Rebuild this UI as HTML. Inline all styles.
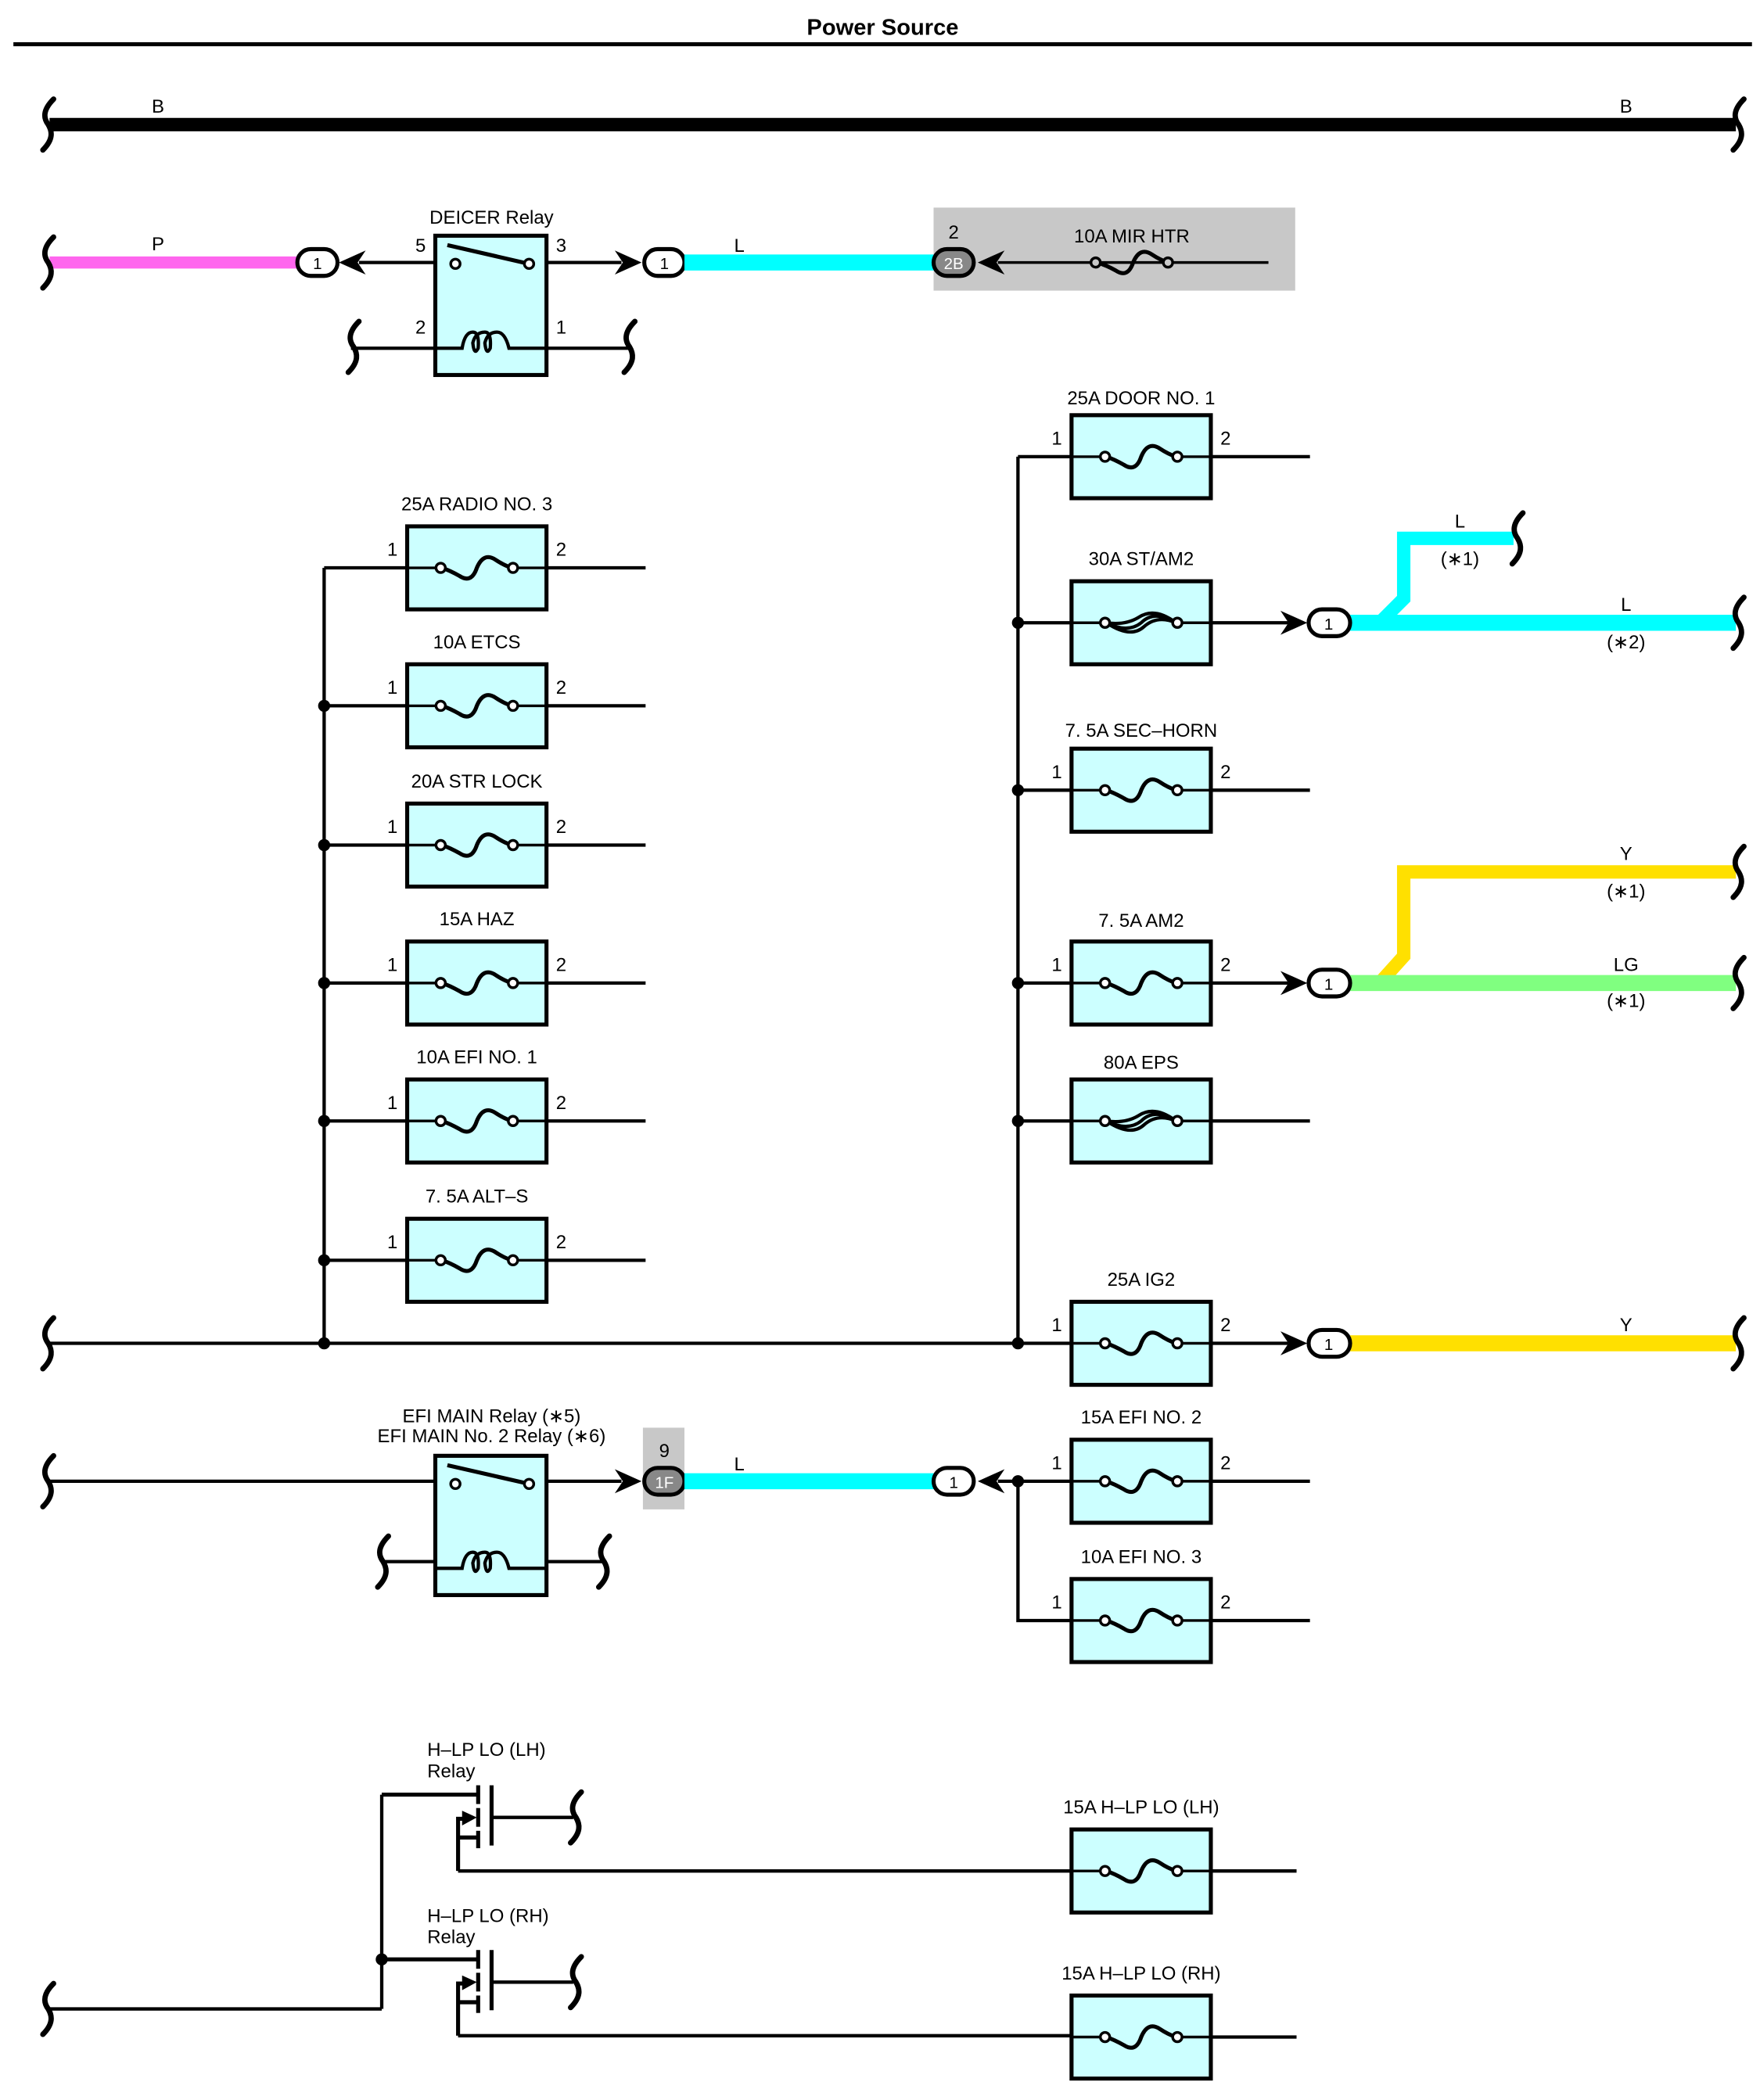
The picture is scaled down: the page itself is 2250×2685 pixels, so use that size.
<!DOCTYPE html>
<html><head><meta charset="utf-8"><style>
html,body{margin:0;padding:0;background:#fff;}
svg{display:block;}
text{font-family:"Liberation Sans",sans-serif;font-size:14px;fill:#000;}
</style></head><body>
<svg width="2250" height="2685" viewBox="0 0 1314 1568" preserveAspectRatio="none" xmlns="http://www.w3.org/2000/svg">
<defs>
<g id="fuse">
<rect x="-52" y="-31" width="104" height="62" fill="#ccffff" stroke="#000" stroke-width="3"/>
<line x1="-52" y1="0" x2="-30" y2="0" stroke="#000" stroke-width="2"/>
<line x1="30" y1="0" x2="52" y2="0" stroke="#000" stroke-width="2"/>
<path d="M-26 0 Q-20 2 -13 6 Q-4 12 0 0 Q5 -12 14 -6 Q20 -2 26 0" fill="none" stroke="#000" stroke-width="3"/>
<circle cx="-27" cy="0" r="3.5" fill="#fff" stroke="#000" stroke-width="2"/>
<circle cx="27" cy="0" r="3.5" fill="#fff" stroke="#000" stroke-width="2"/>
</g>
<g id="flink">
<rect x="-52" y="-31" width="104" height="62" fill="#ccffff" stroke="#000" stroke-width="3"/>
<line x1="-52" y1="0" x2="-30" y2="0" stroke="#000" stroke-width="2"/>
<line x1="30" y1="0" x2="52" y2="0" stroke="#000" stroke-width="2"/>
<path d="M-26 0 Q-10 8 0 0 Q10 -10 26 0 M-26 0 Q-8 12 2 3 Q12 -6 26 0 M-26 0 Q-12 2 -2 -4 Q10 -12 26 0" fill="none" stroke="#000" stroke-width="2.5"/>
<circle cx="-27" cy="0" r="3.5" fill="#fff" stroke="#000" stroke-width="2"/>
<circle cx="27" cy="0" r="3.5" fill="#fff" stroke="#000" stroke-width="2"/>
</g>
<path id="sq" d="M4 -19 C-5 -10 -3 -4 0 0 C3 5 4 11 -4 19" fill="none" stroke="#000" stroke-width="4" stroke-linecap="round"/>
<path id="chR" d="M-11 -9 L9 0 L-11 9 L-5 0 Z" fill="#000"/>
<path id="chL" d="M11 -9 L-9 0 L11 9 L5 0 Z" fill="#000"/>
<g id="relay">
<rect x="0" y="0" width="83" height="104" fill="#ccffff" stroke="#000" stroke-width="3"/>
<line x1="9" y1="7" x2="70" y2="21" stroke="#000" stroke-width="3"/>
<circle cx="15" cy="21" r="3.5" fill="#fff" stroke="#000" stroke-width="2"/>
<circle cx="70" cy="21" r="3.5" fill="#fff" stroke="#000" stroke-width="2"/>
<path d="M0 84 L20 84 Q22 72 28 72 Q33 72 32 84 Q29 90 28 80 Q30 72 37 72 Q42 72 41 84 Q38 90 37 80 Q39 72 46 72 Q52 72 55 84 L83 84" fill="none" stroke="#000" stroke-width="2.5"/>
</g>
<g id="hlp">
<line x1="0" y1="0" x2="72" y2="0" stroke="#000" stroke-width="3"/>
<line x1="72" y1="-7" x2="72" y2="7" stroke="#000" stroke-width="3"/>
<line x1="82" y1="-7" x2="82" y2="38" stroke="#000" stroke-width="3"/>
<line x1="82" y1="17" x2="143" y2="17" stroke="#000" stroke-width="2.5"/>
<use href="#sq" x="145" y="17"/>
<line x1="72" y1="10" x2="72" y2="24" stroke="#000" stroke-width="3"/>
<line x1="72" y1="27" x2="72" y2="40" stroke="#000" stroke-width="3"/>
<path d="M57 57 L57 18 L62 18" fill="none" stroke="#000" stroke-width="3"/>
<path d="M60 12 L71 17 L60 23 Z" fill="#000"/>
<line x1="57" y1="32" x2="72" y2="32" stroke="#000" stroke-width="3"/>
</g>
</defs>

<text x="659" y="26" text-anchor="middle" style="font-weight:bold;font-size:17px">Power Source</text>
<line x1="10" y1="33" x2="1308" y2="33" stroke="#000" stroke-width="3"/>

<line x1="37" y1="93" x2="1296" y2="93" stroke="#000" stroke-width="10"/>
<use href="#sq" x="36" y="93"/><use href="#sq" x="1298" y="93"/>
<text x="118" y="84" text-anchor="middle">B</text><text x="1214" y="84" text-anchor="middle">B</text>

<line x1="37" y1="196" x2="222" y2="196" stroke="#ff66ee" stroke-width="9"/>
<use href="#sq" x="36" y="196"/>
<text x="118" y="187" text-anchor="middle">P</text>
<rect x="222" y="186" width="30" height="20" rx="10" fill="#fff" stroke="#000" stroke-width="3"/>
<text x="237" y="201" text-anchor="middle" style="font-size:12px">1</text>
<use href="#chL" x="262" y="196"/>
<line x1="268" y1="196" x2="340" y2="196" stroke="#000" stroke-width="2.5"/>
<line x1="408" y1="196" x2="464" y2="196" stroke="#000" stroke-width="2.5"/>
<line x1="262" y1="260" x2="470" y2="260" stroke="#000" stroke-width="2.5"/>
<use href="#sq" x="264" y="259"/><use href="#sq" x="470" y="259"/>
<use href="#relay" x="325" y="176"/>
<text x="367" y="167" text-anchor="middle">DEICER Relay</text>
<text x="314" y="188" text-anchor="middle">5</text><text x="419" y="188" text-anchor="middle">3</text>
<text x="314" y="249" text-anchor="middle">2</text><text x="419" y="249" text-anchor="middle">1</text>
<use href="#chR" x="470" y="196"/>
<rect x="481" y="186" width="30" height="20" rx="10" fill="#fff" stroke="#000" stroke-width="3"/>
<text x="496" y="201" text-anchor="middle" style="font-size:12px">1</text>
<line x1="511" y1="196" x2="698" y2="196" stroke="#00ffff" stroke-width="12"/>
<text x="552" y="188" text-anchor="middle">L</text>
<rect x="697" y="155" width="270" height="62" fill="#c8c8c8"/>
<text x="712" y="178" text-anchor="middle">2</text>
<rect x="697" y="186" width="30" height="20" rx="10" fill="#888" stroke="#000" stroke-width="3"/>
<text x="712" y="201" text-anchor="middle" style="font-size:12px;fill:#fff">2B</text>
<use href="#chL" x="739" y="196"/>
<line x1="745" y1="196" x2="947" y2="196" stroke="#000" stroke-width="2"/>
<path d="M819 196 Q826 198 833 202 Q842 208 846 196 Q851 184 860 190 Q866 194 872 196" fill="none" stroke="#000" stroke-width="3"/>
<circle cx="818" cy="196" r="3.5" fill="#c8c8c8" stroke="#000" stroke-width="2"/>
<circle cx="872" cy="196" r="3.5" fill="#c8c8c8" stroke="#000" stroke-width="2"/>
<text x="845" y="181" text-anchor="middle">10A MIR HTR</text>

<line x1="242" y1="424" x2="242" y2="1003" stroke="#000" stroke-width="2.5"/>
<line x1="37" y1="1003" x2="800" y2="1003" stroke="#000" stroke-width="2.5"/>
<use href="#sq" x="36" y="1003"/>
<g stroke="#000" stroke-width="2.5">
<line x1="242" y1="424" x2="304" y2="424"/><line x1="408" y1="424" x2="482" y2="424"/>
<line x1="242" y1="527" x2="304" y2="527"/><line x1="408" y1="527" x2="482" y2="527"/>
<line x1="242" y1="631" x2="304" y2="631"/><line x1="408" y1="631" x2="482" y2="631"/>
<line x1="242" y1="734" x2="304" y2="734"/><line x1="408" y1="734" x2="482" y2="734"/>
<line x1="242" y1="837" x2="304" y2="837"/><line x1="408" y1="837" x2="482" y2="837"/>
<line x1="242" y1="941" x2="304" y2="941"/><line x1="408" y1="941" x2="482" y2="941"/>
</g>
<g fill="#000">
<circle cx="242" cy="527" r="4.5"/><circle cx="242" cy="631" r="4.5"/><circle cx="242" cy="734" r="4.5"/>
<circle cx="242" cy="837" r="4.5"/><circle cx="242" cy="941" r="4.5"/><circle cx="242" cy="1003" r="4.5"/>
</g>
<use href="#fuse" x="356" y="424"/><use href="#fuse" x="356" y="527"/><use href="#fuse" x="356" y="631"/>
<use href="#fuse" x="356" y="734"/><use href="#fuse" x="356" y="837"/><use href="#fuse" x="356" y="941"/>
<text x="356" y="381" text-anchor="middle">25A RADIO NO. 3</text>
<text x="356" y="484" text-anchor="middle">10A ETCS</text>
<text x="356" y="588" text-anchor="middle">20A STR LOCK</text>
<text x="356" y="691" text-anchor="middle">15A HAZ</text>
<text x="356" y="794" text-anchor="middle">10A EFI NO. 1</text>
<text x="356" y="898" text-anchor="middle">7. 5A ALT–S</text>
<g text-anchor="middle">
<text x="293" y="415">1</text><text x="419" y="415">2</text>
<text x="293" y="518">1</text><text x="419" y="518">2</text>
<text x="293" y="622">1</text><text x="419" y="622">2</text>
<text x="293" y="725">1</text><text x="419" y="725">2</text>
<text x="293" y="828">1</text><text x="419" y="828">2</text>
<text x="293" y="932">1</text><text x="419" y="932">2</text>
</g>

<line x1="760" y1="341" x2="760" y2="1003" stroke="#000" stroke-width="2.5"/>
<g stroke="#000" stroke-width="2.5">
<line x1="760" y1="341" x2="800" y2="341"/><line x1="905" y1="341" x2="978" y2="341"/>
<line x1="760" y1="465" x2="800" y2="465"/><line x1="905" y1="465" x2="962" y2="465"/>
<line x1="760" y1="590" x2="800" y2="590"/><line x1="905" y1="590" x2="978" y2="590"/>
<line x1="760" y1="734" x2="800" y2="734"/><line x1="905" y1="734" x2="962" y2="734"/>
<line x1="760" y1="837" x2="800" y2="837"/><line x1="905" y1="837" x2="978" y2="837"/>
<line x1="905" y1="1003" x2="962" y2="1003"/>
</g>
<g fill="#000">
<circle cx="760" cy="465" r="4.5"/><circle cx="760" cy="590" r="4.5"/><circle cx="760" cy="734" r="4.5"/>
<circle cx="760" cy="837" r="4.5"/><circle cx="760" cy="1003" r="4.5"/>
</g>
<use href="#fuse" x="852" y="341"/><use href="#flink" x="852" y="465"/><use href="#fuse" x="852" y="590"/>
<use href="#fuse" x="852" y="734"/><use href="#flink" x="852" y="837"/><use href="#fuse" x="852" y="1003"/>
<text x="852" y="302" text-anchor="middle">25A DOOR NO. 1</text>
<text x="852" y="422" text-anchor="middle">30A ST/AM2</text>
<text x="852" y="550" text-anchor="middle">7. 5A SEC–HORN</text>
<text x="852" y="692" text-anchor="middle">7. 5A AM2</text>
<text x="852" y="798" text-anchor="middle">80A EPS</text>
<text x="852" y="960" text-anchor="middle">25A IG2</text>
<g text-anchor="middle">
<text x="789" y="332">1</text><text x="915" y="332">2</text>
<text x="789" y="581">1</text><text x="915" y="581">2</text>
<text x="789" y="725">1</text><text x="915" y="725">2</text>
<text x="789" y="994">1</text><text x="915" y="994">2</text>
</g>

<path d="M1030 465 L1048 447 L1048 402 L1130 402" fill="none" stroke="#00ffff" stroke-width="10"/>
<line x1="1008" y1="465" x2="1296" y2="465" stroke="#00ffff" stroke-width="12"/>
<use href="#sq" x="1133" y="402"/><use href="#sq" x="1298" y="465"/>
<text x="1090" y="394" text-anchor="middle">L</text><text x="1090" y="422" text-anchor="middle">(∗1)</text>
<text x="1214" y="456" text-anchor="middle">L</text><text x="1214" y="484" text-anchor="middle">(∗2)</text>
<use href="#chR" x="967" y="465"/>
<rect x="977" y="455" width="31" height="20" rx="10" fill="#fff" stroke="#000" stroke-width="3"/>
<text x="992" y="470" text-anchor="middle" style="font-size:12px">1</text>

<path d="M1030 734 L1048 714 L1048 651 L1296 651" fill="none" stroke="#ffe000" stroke-width="10"/>
<line x1="1008" y1="734" x2="1296" y2="734" stroke="#80ff80" stroke-width="12"/>
<use href="#sq" x="1298" y="651"/><use href="#sq" x="1298" y="734"/>
<text x="1214" y="642" text-anchor="middle">Y</text><text x="1214" y="670" text-anchor="middle">(∗1)</text>
<text x="1214" y="725" text-anchor="middle">LG</text><text x="1214" y="752" text-anchor="middle">(∗1)</text>
<use href="#chR" x="967" y="734"/>
<rect x="977" y="724" width="31" height="20" rx="10" fill="#fff" stroke="#000" stroke-width="3"/>
<text x="992" y="739" text-anchor="middle" style="font-size:12px">1</text>

<line x1="1008" y1="1003" x2="1296" y2="1003" stroke="#ffe000" stroke-width="12"/>
<use href="#sq" x="1298" y="1003"/>
<text x="1214" y="994" text-anchor="middle">Y</text>
<use href="#chR" x="967" y="1003"/>
<rect x="977" y="993" width="31" height="20" rx="10" fill="#fff" stroke="#000" stroke-width="3"/>
<text x="992" y="1008" text-anchor="middle" style="font-size:12px">1</text>

<line x1="37" y1="1106" x2="340" y2="1106" stroke="#000" stroke-width="2.5"/>
<use href="#sq" x="36" y="1106"/>
<line x1="408" y1="1106" x2="464" y2="1106" stroke="#000" stroke-width="2.5"/>
<line x1="285" y1="1166" x2="450" y2="1166" stroke="#000" stroke-width="2.5"/>
<use href="#sq" x="286" y="1166"/><use href="#sq" x="451" y="1166"/>
<use href="#relay" x="325" y="1087"/>
<text x="367" y="1062" text-anchor="middle">EFI MAIN Relay (∗5)</text>
<text x="367" y="1077" text-anchor="middle">EFI MAIN No. 2 Relay (∗6)</text>
<use href="#chR" x="470" y="1106"/>
<rect x="480" y="1066" width="31" height="61" fill="#c8c8c8"/>
<text x="496" y="1088" text-anchor="middle">9</text>
<rect x="481" y="1096" width="30" height="20" rx="10" fill="#888" stroke="#000" stroke-width="3"/>
<text x="496" y="1111" text-anchor="middle" style="font-size:12px;fill:#fff">1F</text>
<line x1="511" y1="1106" x2="698" y2="1106" stroke="#00ffff" stroke-width="12"/>
<text x="552" y="1098" text-anchor="middle">L</text>
<rect x="697" y="1096" width="30" height="20" rx="10" fill="#fff" stroke="#000" stroke-width="3"/>
<text x="712" y="1111" text-anchor="middle" style="font-size:12px">1</text>
<use href="#chL" x="739" y="1106"/>
<line x1="745" y1="1106" x2="800" y2="1106" stroke="#000" stroke-width="2.5"/>
<path d="M760 1106 L760 1210 L800 1210" fill="none" stroke="#000" stroke-width="2.5"/>
<circle cx="760" cy="1106" r="4.5" fill="#000"/>
<line x1="905" y1="1106" x2="978" y2="1106" stroke="#000" stroke-width="2.5"/>
<line x1="905" y1="1210" x2="978" y2="1210" stroke="#000" stroke-width="2.5"/>
<use href="#fuse" x="852" y="1106"/><use href="#fuse" x="852" y="1210"/>
<text x="852" y="1063" text-anchor="middle">15A EFI NO. 2</text>
<text x="852" y="1167" text-anchor="middle">10A EFI NO. 3</text>
<g text-anchor="middle">
<text x="789" y="1097">1</text><text x="915" y="1097">2</text>
<text x="789" y="1201">1</text><text x="915" y="1201">2</text>
</g>

<line x1="37" y1="1500" x2="285" y2="1500" stroke="#000" stroke-width="2.5"/>
<use href="#sq" x="36" y="1500"/>
<line x1="285" y1="1340" x2="285" y2="1500" stroke="#000" stroke-width="2.5"/>
<circle cx="285" cy="1463" r="4.5" fill="#000"/>
<use href="#hlp" x="285" y="1340"/>
<use href="#hlp" x="285" y="1463"/>
<line x1="342" y1="1397" x2="800" y2="1397" stroke="#000" stroke-width="2.5"/>
<line x1="342" y1="1520" x2="800" y2="1520" stroke="#000" stroke-width="2.5"/>
<line x1="905" y1="1397" x2="968" y2="1397" stroke="#000" stroke-width="2.5"/>
<line x1="905" y1="1521" x2="968" y2="1521" stroke="#000" stroke-width="2.5"/>
<use href="#fuse" x="852" y="1397"/><use href="#fuse" x="852" y="1521"/>
<text x="852" y="1354" text-anchor="middle">15A H–LP LO (LH)</text>
<text x="852" y="1478" text-anchor="middle">15A H–LP LO (RH)</text>
<text x="319" y="1311">H–LP LO (LH)</text><text x="319" y="1327">Relay</text>
<text x="319" y="1435">H–LP LO (RH)</text><text x="319" y="1451">Relay</text>
</svg>
</body></html>
